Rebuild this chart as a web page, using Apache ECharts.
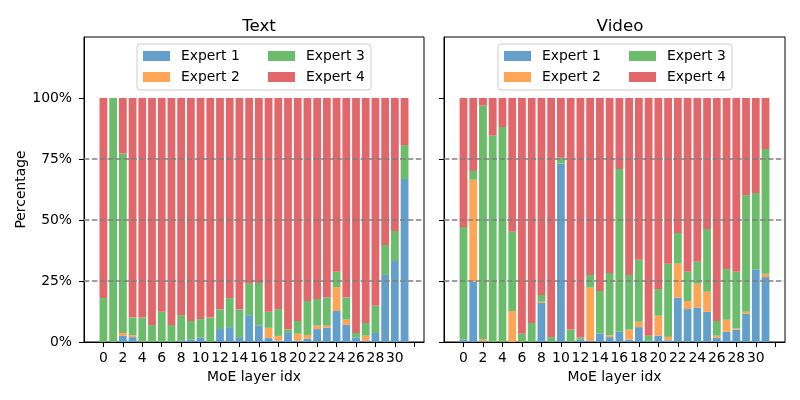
<!DOCTYPE html>
<html>
<head>
<meta charset="utf-8">
<script src="https://cdn.jsdelivr.net/npm/echarts@6/dist/echarts.min.js"></script>
<style>
  html, body { margin: 0; padding: 0; background: #fff; }
  #main { width: 800px; height: 400px; }
</style>
</head>
<body>
<div id="main"></div>
<script>
// layer index (x axis); axis runs from -2 to 33 like the original plot margins
var layers = [0, 1, 2, 3, 4, 5, 6, 7, 8, 9, 10, 11, 12, 13, 14, 15,
              16, 17, 18, 19, 20, 21, 22, 23, 24, 25, 26, 27, 28, 29, 30, 31];
var xSlots = [-2, -1, 0, 1, 2, 3, 4, 5, 6, 7, 8, 9, 10, 11, 12, 13, 14, 15,
              16, 17, 18, 19, 20, 21, 22, 23, 24, 25, 26, 27, 28, 29, 30, 31, 32, 33];
var xTicks = [0, 2, 4, 6, 8, 10, 12, 14, 16, 18, 20, 22, 24, 26, 28, 30, 32];
var xLabels = [0, 2, 4, 6, 8, 10, 12, 14, 16, 18, 20, 22, 24, 26, 28, 30];
var yTicks = [0, 25, 50, 75, 100];
var refLines = [25, 50, 75];
var expertNames = ['Expert 1', 'Expert 2', 'Expert 3', 'Expert 4'];

// Text (percent per layer)
var textE1 = [0, 0, 2.5, 2.0, 0, 0, 0, 0, 0.5, 1.0, 1.8, 0, 5.3, 6.1, 2.0, 11.0,
              6.7, 1.6, 0.5, 3.7, 0.5, 1.4, 5.3, 5.9, 12.7, 7.0, 1.8, 0.4, 3.7, 27.5, 33.2, 66.8];
var textE2 = [0, 0, 1.2, 0.8, 0, 0, 0, 0, 0, 0, 0, 0, 0, 0, 0, 0,
              0, 4.2, 2.0, 0, 2.9, 1.5, 1.4, 0.8, 9.8, 2.2, 0, 2.2, 0, 0, 0, 0];
var textE3 = [18.0, 100, 73.5, 7.2, 10.0, 7.0, 12.4, 7.0, 10.5, 7.6, 7.6, 10.0, 8.0, 11.9, 11.3, 12.9,
              17.5, 6.6, 11.0, 1.4, 5.2, 13.9, 10.9, 11.5, 6.3, 9.0, 1.9, 5.2, 11.2, 12.3, 12.3, 13.9];
var textE4 = [82.0, 0, 22.8, 90.0, 90.0, 93.0, 87.6, 93.0, 89.0, 91.4, 90.6, 90.0, 86.7, 82.0, 86.7, 76.1,
              75.8, 87.6, 86.5, 94.9, 91.4, 83.2, 82.4, 81.8, 71.2, 81.8, 96.3, 92.2, 85.1, 60.2, 54.5, 19.3];

// Video (percent per layer)
var videoE1 = [1.0, 24.7, 0.3, 0, 0, 0, 0, 0, 16.0, 0, 73.1, 0, 1.0, 0.4, 3.4, 2.0,
               4.2, 1.0, 6.1, 0.5, 2.6, 0.7, 18.2, 13.5, 14.1, 12.4, 1.8, 4.2, 5.1, 11.6, 29.6, 26.6];
var videoE2 = [0, 41.8, 0.9, 0, 0, 12.7, 0, 0, 0.5, 0, 0, 0, 0, 21.9, 0, 0.8,
               0, 4.1, 2.2, 0, 8.2, 1.4, 13.9, 3.3, 9.8, 8.2, 0.8, 4.9, 0.5, 0.8, 0, 1.4];
var videoE3 = [46.1, 3.6, 95.7, 84.6, 88.1, 32.5, 3.4, 7.8, 2.8, 2.0, 2.4, 5.1, 0.8, 5.2, 17.5, 25.5,
               66.7, 22.4, 25.4, 2.1, 10.9, 30.0, 12.6, 12.0, 9.0, 25.7, 6.0, 20.8, 23.2, 47.8, 31.5, 51.1];
var videoE4 = [52.9, 29.9, 3.1, 15.4, 11.9, 54.8, 96.6, 92.2, 80.7, 98.0, 24.5, 94.9, 98.2, 72.5, 79.1, 71.7,
               29.1, 72.5, 66.3, 97.4, 78.3, 67.9, 55.3, 71.2, 67.1, 53.7, 91.4, 70.1, 71.2, 39.8, 38.9, 20.9];

var colors = ['#62a0cb', '#ffa556', '#6bbc6b', '#e2676a'];
var font = 'DejaVu Sans';

// put a layer array onto the padded x slots
function slotted(arr) {
    return xSlots.map(function (s) {
        var i = layers.indexOf(s);
        return i >= 0 ? arr[i] : '-';
    });
}

function xAxisOf(idx) {
    return {
        type: 'category', gridIndex: idx, data: xSlots.map(String), boundaryGap: false,
        name: 'MoE layer idx', nameLocation: 'middle', nameGap: 28,
        nameTextStyle: { fontFamily: font, fontSize: 13.9, color: '#000' },
        axisLine: { show: true, onZero: false, lineStyle: { color: '#000', width: 1 } },
        axisTick: {
            show: true, length: 5, lineStyle: { color: '#000' },
            interval: function (i, v) { return xTicks.indexOf(Number(v)) >= 0; }
        },
        axisLabel: {
            margin: 9, fontFamily: font, fontSize: 13.9, color: '#000',
            interval: function (i, v) { return xLabels.indexOf(Number(v)) >= 0; }
        },
        splitLine: { show: false }
    };
}

function yAxisOf(idx, showLabel) {
    return {
        type: 'value', gridIndex: idx, min: 0, max: 125,
        name: showLabel ? 'Percentage' : '', nameLocation: 'middle', nameGap: 56,
        nameTextStyle: { fontFamily: font, fontSize: 13.9, color: '#000' },
        axisLine: { show: true, onZero: false, lineStyle: { color: '#000', width: 1 } },
        axisTick: { show: true, length: 5, customValues: yTicks, lineStyle: { color: '#000' } },
        axisLabel: {
            show: showLabel, customValues: yTicks, margin: 12,
            fontFamily: font, fontSize: 13.9, color: '#000',
            formatter: function (v) { return Math.round(v) + '%'; }
        },
        splitLine: { show: false }
    };
}

// two columns: Expert 1/2 on the left, Expert 3/4 on the right
function legendOf(left) {
    return {
        left: left, top: 44, width: 240,
        orient: 'horizontal',
        data: [
            { name: 'Expert 1', textStyle: { width: 82 } },
            { name: 'Expert 3', textStyle: { width: 60 } },
            { name: 'Expert 2', textStyle: { width: 82 } },
            { name: 'Expert 4', textStyle: { width: 60 } }
        ],
        icon: 'rect', itemWidth: 27, itemHeight: 10, itemGap: 5,
        padding: [4, 5, 5, 6],
        backgroundColor: 'rgba(255,255,255,0.8)',
        borderColor: '#cccccc', borderWidth: 1, borderRadius: 3,
        textStyle: { fontFamily: font, fontSize: 13.9, color: '#000', lineHeight: 16, padding: [0, 0, 0, 6] }
    };
}

function seriesOf(idx, stack, arrs) {
    return arrs.map(function (arr, k) {
        var s = {
            name: expertNames[k], type: 'bar', stack: stack,
            xAxisIndex: idx, yAxisIndex: idx,
            barWidth: 7.8,
            itemStyle: { color: colors[k] },
            data: slotted(arr)
        };
        if (k === 3) {
            s.markLine = {
                silent: true, symbol: 'none', z: 10,
                label: { show: false },
                lineStyle: { color: '#808080', type: [5.5, 2.4], width: 1.5 },
                data: refLines.map(function (v) { return { yAxis: v }; })
            };
        }
        return s;
    });
}

var chart = echarts.init(document.getElementById('main'));

var option = {
    animation: false,
    color: colors,
    title: [
        { text: 'Text', left: 254, top: 13, textAlign: 'center',
          textStyle: { fontFamily: font, fontSize: 16.7, fontWeight: 'normal', color: '#000' } },
        { text: 'Video', left: 615, top: 13, textAlign: 'center',
          textStyle: { fontFamily: font, fontSize: 16.7, fontWeight: 'normal', color: '#000' } }
    ],
    legend: [legendOf(137), legendOf(498)],
    grid: [
        { left: 84, top: 37, width: 340, height: 305, show: true, borderColor: '#000', borderWidth: 1 },
        { left: 444, top: 37, width: 341, height: 305, show: true, borderColor: '#000', borderWidth: 1 }
    ],
    xAxis: [xAxisOf(0), xAxisOf(1)],
    yAxis: [yAxisOf(0, true), yAxisOf(1, false)],
    series: seriesOf(0, 'text', [textE1, textE2, textE3, textE4])
        .concat(seriesOf(1, 'video', [videoE1, videoE2, videoE3, videoE4]))
};

chart.setOption(option);
</script>
</body>
</html>
